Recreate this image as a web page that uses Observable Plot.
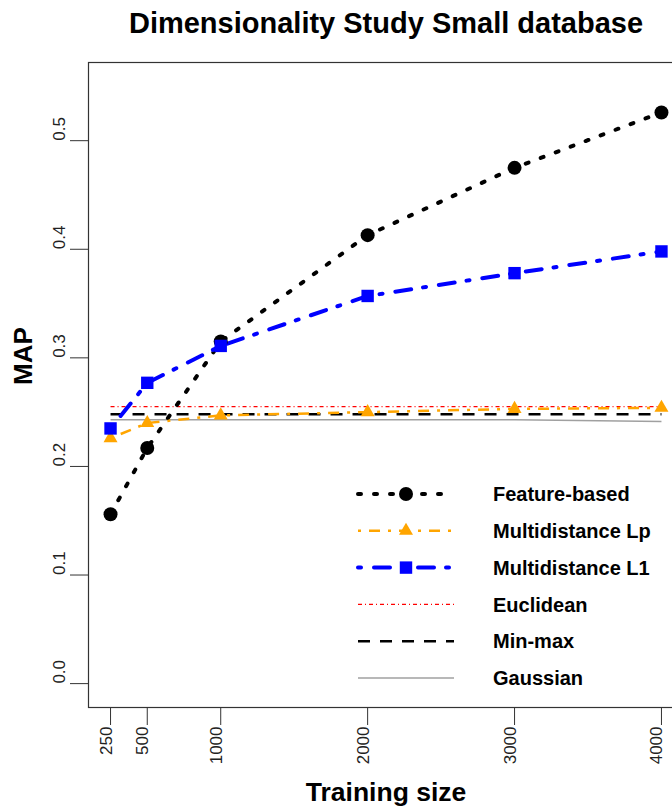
<!DOCTYPE html>
<html><head><meta charset="utf-8">
<script src="https://cdn.jsdelivr.net/npm/d3@7"></script>
<script src="https://cdn.jsdelivr.net/npm/@observablehq/plot@0.6"></script>
<style>
body{margin:0;background:#fff;}
#chart{position:relative;width:672px;height:809px;overflow:hidden;}
</style>
</head><body><div id="chart"></div>
<script>
// ---- data ----
const sizes = [250, 500, 1000, 2000, 3000, 4000];
const featureBased    = [0.156, 0.217, 0.315, 0.413, 0.475, 0.526];
const multidistanceLp = [0.226, 0.240, 0.247, 0.250, 0.253, 0.254];
const multidistanceL1 = [0.235, 0.277, 0.311, 0.357, 0.378, 0.398];
const euclidean       = [0.255, 0.255, 0.255, 0.255, 0.255, 0.255];
const minMax          = [0.248, 0.248, 0.248, 0.248, 0.248, 0.248];
const gaussian        = [0.243, 0.243, 0.243, 0.243, 0.243, 0.2415];
const seriesNames = ["Feature-based", "Multidistance Lp", "Multidistance L1", "Euclidean", "Min-max", "Gaussian"];
const seriesValues = [featureBased, multidistanceLp, multidistanceL1, euclidean, minMax, gaussian];
const yTicks = [0, 0.1, 0.2, 0.3, 0.4, 0.5];
const xTicks = [250, 500, 1000, 2000, 3000, 4000];
const titleText = "Dimensionality Study Small database";
const xLabel = "Training size";
const yLabel = "MAP";

// ---- styles ----
const styles = {
  "Feature-based":    {stroke: "black",   width: 4,   dash: "3,13",       cap: "round", symbol: "circle",   r: 7},
  "Multidistance Lp": {stroke: "orange",  width: 2.5, dash: "3,8,11,8",   cap: "butt",  symbol: "triangle", r: 5.2},
  "Multidistance L1": {stroke: "blue",    width: 4,   dash: "3,13,16,12", cap: "round", symbol: "square",   r: 7},
  "Euclidean":        {stroke: "red",     width: 1.2, dash: "4,3,1,3",    cap: "butt"},
  "Min-max":          {stroke: "black",   width: 2.5, dash: "12,10",      cap: "butt"},
  "Gaussian":         {stroke: "#a0a0a0", width: 1.5, dash: null,         cap: "butt"}
};
const FONT = "'Liberation Sans', Arial, sans-serif";

const rows = seriesNames.map((name, k) => sizes.map((x, i) => ({x, y: seriesValues[k][i], series: name})));
const drawOrder = [5, 4, 3, 0, 1, 2];

const marks = [Plot.frame({stroke: "#333", strokeWidth: 1.2})];
for (const k of drawOrder) {
  const s = styles[seriesNames[k]];
  marks.push(Plot.line(rows[k], {x: "x", y: "y", stroke: s.stroke, strokeWidth: s.width,
    strokeDasharray: s.dash || undefined, strokeLinecap: s.cap, strokeLinejoin: "round"}));
}
for (const k of drawOrder) {
  const s = styles[seriesNames[k]];
  if (s.symbol) marks.push(Plot.dot(rows[k], {x: "x", y: "y", symbol: s.symbol, r: s.r, fill: s.stroke, stroke: "none"}));
}
marks.push(
  Plot.axisY(yTicks, {tickSize: 18, tickFormat: () => "", stroke: "#333", label: null}),
  Plot.axisX(xTicks, {tickSize: 18, tickFormat: () => "", stroke: "#333", label: null}),
  Plot.text(yTicks, {y: d => d, text: d => d.toFixed(1), frameAnchor: "left", dx: -29, rotate: -90, fontSize: 17, fill: "#222"}),
  Plot.text(xTicks, {x: d => d, text: d => String(d), frameAnchor: "bottom", dy: 19, dx: 1, rotate: -90, textAnchor: "end", fontSize: 17, fill: "#222"}),
  Plot.text([yLabel], {text: d => d, frameAnchor: "left", dx: -65, rotate: -90, fontWeight: "bold", fontSize: 26, fill: "black"}),
  Plot.text([xLabel], {text: d => d, frameAnchor: "bottom", dy: 93, fontWeight: "bold", fontSize: 26.5, fill: "black"}),
  Plot.text([titleText], {text: d => d, frameAnchor: "top", dy: -50, fontWeight: "bold", fontSize: 29, fill: "black"})
);

const chart = Plot.plot({
  width: 672, height: 809,
  marginLeft: 88, marginRight: -11, marginTop: 62, marginBottom: 102,
  x: {domain: [100, 4150], label: null},
  y: {domain: [-0.022, 0.572], label: null},
  style: {fontFamily: FONT, fontSize: "17px", background: "white", color: "#222"},
  marks
});
document.getElementById("chart").appendChild(chart);

// ---- legend (inside plot area, no box) ----
const svg = d3.select(chart);
const leg = svg.append("g").attr("font-family", FONT).attr("text-anchor", "start");
const lx0 = 358, lx1 = 454, ltx = 493, ly0 = 494, lstep = 36.8;
seriesNames.forEach((name, k) => {
  const s = styles[name];
  const yy = ly0 + k * lstep;
  leg.append("line").attr("x1", lx0).attr("x2", lx1).attr("y1", yy).attr("y2", yy)
    .attr("stroke", s.stroke).attr("stroke-width", s.width)
    .attr("stroke-dasharray", s.dash).attr("stroke-linecap", s.cap);
  if (s.symbol) {
    const sym = {circle: d3.symbolCircle, triangle: d3.symbolTriangle, square: d3.symbolSquare}[s.symbol];
    leg.append("path").attr("d", d3.symbol(sym, Math.PI * s.r * s.r)())
      .attr("transform", `translate(${(lx0 + lx1) / 2},${yy})`).attr("fill", s.stroke);
  }
  leg.append("text").attr("x", ltx).attr("y", yy).attr("dy", "0.36em").attr("text-anchor", "start")
    .attr("font-weight", "bold").attr("font-size", 20).attr("fill", "black").text(name);
});
</script>
</body></html>
